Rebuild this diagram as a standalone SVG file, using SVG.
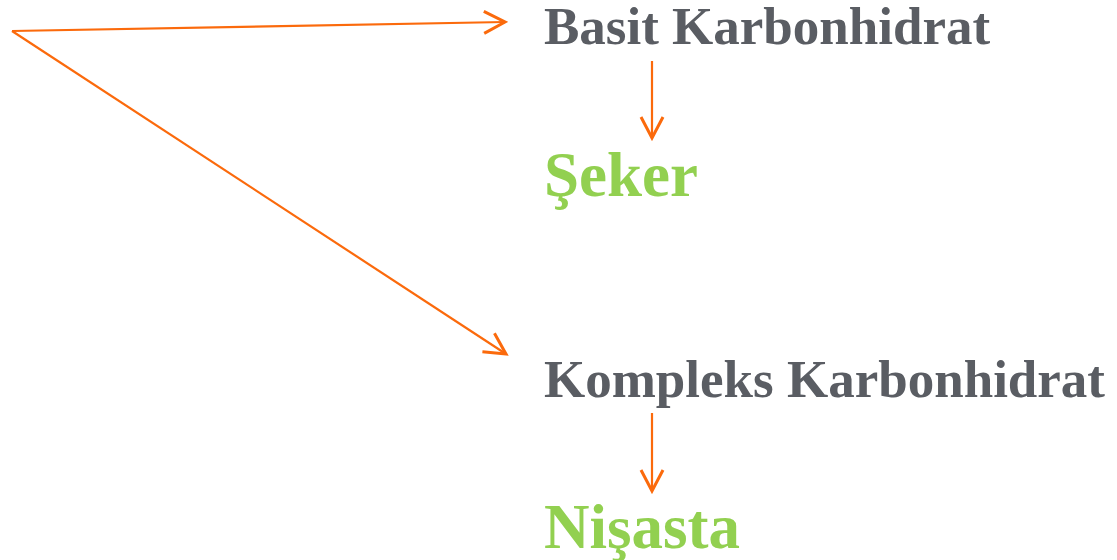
<svg xmlns="http://www.w3.org/2000/svg" width="1117" height="560" viewBox="0 0 1117 560">
<style>
.conn{stroke:#fb6a0c;stroke-width:2.2;fill:none;marker-end:url(#arr)}
.t{font-family:"Liberation Serif","Times New Roman",serif;font-weight:bold}
.gray{fill:#5a5d63;font-size:53px}
.green{fill:#92d050;font-size:63px}
</style>
<defs>
<marker id="arr" markerUnits="userSpaceOnUse" markerWidth="26" markerHeight="26" viewBox="-2 -2 26 26" refX="21" refY="11" orient="auto">
<path d="M0,0 L21,11 L0,22" fill="none" stroke="#fb6a0c" stroke-width="3"/>
</marker>
</defs>
<rect width="1117" height="560" fill="#ffffff"/>
<g id="connectors">
<line class="conn" x1="12" y1="31" x2="505" y2="22"/>
<line class="conn" x1="12" y1="31" x2="506" y2="354"/>
<line class="conn" x1="652" y1="61" x2="652" y2="138"/>
<line class="conn" x1="652" y1="413" x2="652" y2="491"/>
</g>
<g id="basit"><text class="t gray" x="544" y="44">Basit Karbonhidrat</text></g>
<g id="seker"><text class="t green" x="544" y="196">Şeker</text></g>
<g id="kompleks"><text class="t gray" x="544" y="397">Kompleks Karbonhidrat</text></g>
<g id="nisasta"><text class="t green" x="544" y="548">Nişasta</text></g>
</svg>
